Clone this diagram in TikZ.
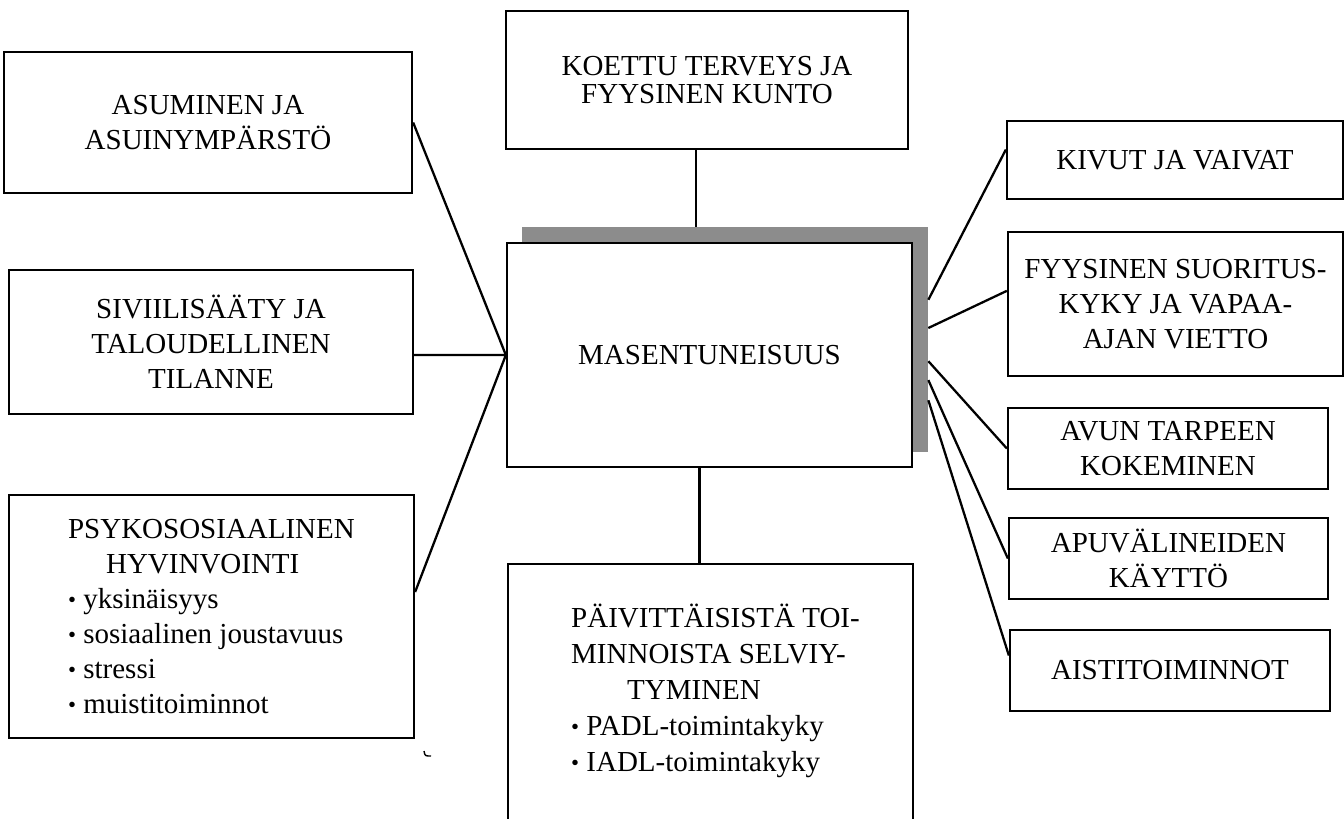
\documentclass[tikz,border=0pt]{standalone}
\usepackage{fontspec}
\setmainfont{Liberation Serif}
\usetikzlibrary{calc}
\newcommand\pallo{\raisebox{0.1ex}{\fontsize{13}{13}\selectfont\textbullet}}
\tikzset{
	factor/.style={draw,line width=1.3pt,rectangle,inner sep=0pt,align=center,
		font=\fontsize{16.5}{20}\selectfont},
	shadowbox/.style={fill=black!45,draw=none,rectangle,inner sep=0pt},
	link/.style={line width=1.3pt}
}
\begin{document}
\begin{tikzpicture}
	\useasboundingbox (0,0) rectangle (26.88,-16.36) ;
	% keskus
	\node[shadowbox,minimum width=8.12cm,minimum height=4.5cm] (shadow) at (14.5,-6.79) {} ;
	\node[factor,fill=white,minimum width=8.1cm,minimum height=4.48cm] (masen) at (14.19,-7.1) {MASENTUNEISUUS} ;
	% vasen puoli
	\node[factor,minimum width=8.16cm,minimum height=2.82cm] (asum) at (4.16,-2.45) {ASUMINEN JA\\ASUINYMPÄRSTÖ} ;
	\node[factor,minimum width=8.08cm,minimum height=2.88cm] (sivi) at (4.22,-6.84) {SIVIILISÄÄTY JA\\TALOUDELLINEN\\TILANNE} ;
	\node[factor,align=left,minimum width=8.1cm,minimum height=4.86cm] (psyko) at (4.23,-12.33)
	{PSYKOSOSIAALINEN\\\hspace*{0.76cm}HYVINVOINTI\\\pallo\ yksinäisyys\\\pallo\ sosiaalinen joustavuus\\\pallo\ stressi\\\pallo\ muistitoiminnot} ;
	% ylä ja ala
	\node[factor,minimum width=8.04cm,minimum height=2.76cm,font=\fontsize{16.5}{16}\selectfont] (koettu) at (14.14,-1.6) {KOETTU TERVEYS JA\\FYYSINEN KUNTO} ;
	\node[factor,anchor=north,minimum width=8.1cm,minimum height=6.74cm] (paiv) at (14.21,-11.26) {} ;
	\node[anchor=north west,inner sep=0pt,align=left,font=\fontsize{16.5}{20.5}\selectfont] (paivtext) at ($(paiv.north west)+(1.28,-0.82)$)
	{PÄIVITTÄISISTÄ TOI-\\MINNOISTA SELVIY-\\\hspace*{1.12cm}TYMINEN\\\pallo\ PADL-toimintakyky\\\pallo\ IADL-toimintakyky} ;
	% oikea puoli
	\node[factor,minimum width=6.72cm,minimum height=1.56cm] (kivut) at (23.5,-3.2) {KIVUT JA VAIVAT} ;
	\node[factor,minimum width=6.7cm,minimum height=2.88cm] (fyys) at (23.51,-6.08) {FYYSINEN SUORITUS-\\KYKY JA VAPAA-\\AJAN VIETTO} ;
	\node[factor,minimum width=6.4cm,minimum height=1.62cm] (avun) at (23.36,-8.97) {AVUN TARPEEN\\KOKEMINEN} ;
	\node[factor,minimum width=6.38cm,minimum height=1.62cm] (apuv) at (23.37,-11.17) {APUVÄLINEIDEN\\KÄYTTÖ} ;
	\node[factor,minimum width=6.4cm,minimum height=1.62cm] (aisti) at (23.4,-13.41) {AISTITOIMINNOT} ;
	% yhteydet
	\draw[link] (asum.east)--(masen.west)
	(sivi.east |- masen.west)--(masen.west)
	($(psyko.north east)!0.4!(psyko.south east)$)--(masen.west) ;
	\draw[link] ([xshift=-0.22cm]koettu.south)--([xshift=-0.22cm]koettu.south |- shadow.north)
	([xshift=-0.2cm]masen.south)--([xshift=-0.2cm]masen.south |- paiv.north) ;
	\draw[link] ($(shadow.north east)!0.324!(shadow.south east)$)--($(kivut.north west)!0.37!(kivut.south west)$)
	($(shadow.north east)!0.449!(shadow.south east)$)--($(fyys.north west)!0.41!(fyys.south west)$)
	($(shadow.north east)!0.596!(shadow.south east)$)--(avun.west)
	($(shadow.north east)!0.68!(shadow.south east)$)--(apuv.west)
	($(shadow.north east)!0.769!(shadow.south east)$)--($(aisti.north west)!0.32!(aisti.south west)$) ;
	\draw[line width=0.8pt] (8.48,-15.02) .. controls (8.5,-15.12) .. (8.62,-15.12) ;
\end{tikzpicture}
\end{document}
